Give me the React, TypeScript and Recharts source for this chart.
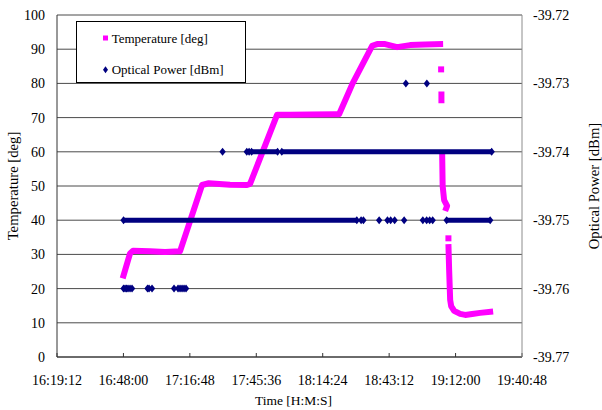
import React from "react";
import { CartesianGrid, ComposedChart, Line, Scatter, XAxis, YAxis } from "recharts";

const xTickLabels = ["16:19:12", "16:48:00", "17:16:48", "17:45:36", "18:14:24", "18:43:12", "19:12:00", "19:40:48"];
const tempTicks = [0, 10, 20, 30, 40, 50, 60, 70, 80, 90, 100];
const powerTicks = [-39.77, -39.76, -39.75, -39.74, -39.73, -39.72];

// temperature trace, null = gap in the trace
const tempTimes = [
  "16:47:41", "16:50:52", "16:52:10", "16:59:32", "17:06:02", "17:12:32", "17:22:05", "17:25:00", "17:34:13",
  "17:41:36", "17:42:54", "17:54:36", "18:00:15", "18:08:55", "18:19:46", "18:21:30", "18:27:22",
  "18:35:50", "18:38:00", "18:41:27", "18:46:39", "18:52:17", "18:58:47", "19:06:36",
  "19:06:36",
  "19:05:52", "19:05:52",
  "19:05:52",
  "19:06:10", "19:06:24", "19:07:02", "19:08:20", "19:07:29",
  "19:07:29",
  "19:08:54", "19:09:13", "19:09:39", "19:10:05", "19:11:23", "19:14:00", "19:16:10", "19:19:12", "19:22:38", "19:28:17",
];
const tempValues = [
  23.0, 30.3, 31.1, 30.9, 30.7, 30.9, 50.3, 50.8, 50.4,
  50.3, 50.6, 70.8, 70.8, 70.9, 71.0, 71.0, 80.0,
  91.0, 91.5, 91.5, 90.6, 91.2, 91.4, 91.5,
  null,
  77.6, 74.2,
  null,
  60.3, 50.0, 45.9, 44.2, 42.7,
  null,
  33.0, 25.4, 16.7, 14.9, 13.5, 12.6, 12.3, 12.6, 12.9, 13.3,
];
const tempSpotTimes = ["19:05:44", "19:08:54"];
const tempSpotValues = [84.1, 34.7];

// optical power: dense runs of samples
const powerRunStart = ["16:48:03", "19:08:08", "17:43:34", "17:56:40"];
const powerRunEnd = ["18:29:11", "19:27:00", "17:54:50", "19:27:39"];
const powerRunLevel = [-39.75, -39.75, -39.74, -39.74];

// optical power: single samples
const powerDotTimes = [
  "16:48:03", "16:48:42", "16:49:21", "16:50:00", "16:50:52", "16:51:44", "16:58:27", "16:59:06", "17:00:24",
  "17:09:57", "17:11:41", "17:12:33", "17:13:25", "17:14:17", "17:15:09",
  "17:30:59", "17:41:29", "17:42:29",
  "18:31:03", "18:32:03", "18:38:52", "18:42:28", "18:43:51", "18:45:35", "18:49:42", "18:57:49", "18:59:28",
  "19:00:46", "19:02:04",
  "18:50:27", "18:59:33",
];
const powerDotValues = [
  -39.76, -39.76, -39.76, -39.76, -39.76, -39.76, -39.76, -39.76, -39.76,
  -39.76, -39.76, -39.76, -39.76, -39.76, -39.76,
  -39.74, -39.74, -39.74,
  -39.75, -39.75, -39.75, -39.75, -39.75, -39.75, -39.75, -39.75, -39.75,
  -39.75, -39.75,
  -39.73, -39.73,
];

const MAGENTA = "#ff00ff";
const NAVY = "#000080";
const FONT = '"Liberation Serif", "Times New Roman", serif';

const toSec = (s: string) => {
  const [h, m, x] = s.split(":").map(Number);
  return h * 3600 + m * 60 + x;
};
const pad = (n: number) => String(n).padStart(2, "0");
const fmtTime = (v: number) =>
  `${Math.floor(v / 3600)}:${pad(Math.floor((v % 3600) / 60))}:${pad(Math.round(v % 60))}`;

const xTicks = xTickLabels.map(toSec);
const tempData = tempTimes.map((t, i) => ({ t: toSec(t), v: tempValues[i] }));
const tempSpots = tempSpotTimes.map((t, i) => ({ t: toSec(t), v: tempSpotValues[i] }));
const runData = powerRunStart.flatMap((s, i) => [
  { t: toSec(s), v: powerRunLevel[i] },
  { t: toSec(powerRunEnd[i]), v: powerRunLevel[i] },
  { t: toSec(powerRunEnd[i]), v: null },
]);
const powerDots = powerDotTimes.map((t, i) => ({ t: toSec(t), v: powerDotValues[i] }));

const Diamond = (p: any) => {
  const { cx, cy } = p;
  if (cx == null || cy == null || (p.value == null && p.payload?.v == null)) return <g key={p.key ?? p.index} />;
  return (
    <polygon
      key={p.key ?? `d${p.index}-${cx}`}
      points={`${cx},${cy - 4} ${cx + 3.2},${cy} ${cx},${cy + 4} ${cx - 3.2},${cy}`}
      fill={NAVY}
    />
  );
};

const Square = (p: any) => {
  const { cx, cy } = p;
  if (cx == null || cy == null) return <g />;
  return <rect x={cx - 3} y={cy - 3} width={6} height={6} fill={MAGENTA} />;
};

function ChartLegend() {
  return (
    <svg width={172} height={64} style={{ position: "absolute", left: 76, top: 21 }}>
      <rect x={0.5} y={0.5} width={169} height={61} fill="#fff" stroke="#000" />
      <rect x={27} y={14.5} width={5} height={5} fill={MAGENTA} />
      <text x={35.7} y={21.7} fontSize={13} fontFamily={FONT} fill="#000">
        Temperature [deg]
      </text>
      <polygon points="29.5,45.2 32,48.7 29.5,52.2 27,48.7" fill={NAVY} />
      <text x={35.7} y={53} fontSize={13} fontFamily={FONT} fill="#000">
        Optical Power [dBm]
      </text>
    </svg>
  );
}

export default function App() {
  const tick = { fontSize: 14, fill: "#000", fontFamily: FONT };
  const xTitle = { fontSize: 13.5, fill: "#000", fontFamily: FONT, textAnchor: "middle" as const };
  const yTitle = { fontSize: 14.7, fill: "#000", fontFamily: FONT, textAnchor: "middle" as const };
  return (
    <div style={{ position: "absolute", left: 0, top: 0, width: 602, height: 410, background: "#fff", fontFamily: FONT }}>
      <ComposedChart width={602} height={410} margin={{ top: 15, right: 0, bottom: 0, left: 0 }}>
        <CartesianGrid yAxisId="temp" vertical={false} stroke="#4a4a4a" />
        <XAxis
          type="number"
          dataKey="t"
          domain={[xTicks[0], xTicks[xTicks.length - 1]]}
          ticks={xTicks}
          interval={0}
          allowDataOverflow
          tickFormatter={fmtTime}
          height={53}
          tick={tick}
          tickSize={-4}
          tickMargin={22}
          axisLine={{ stroke: "#333" }}
          tickLine={{ stroke: "#333" }}
          label={{ value: "Time [H:M:S]", position: "insideBottom", offset: 5, dx: 4, style: xTitle }}
        />
        <YAxis
          yAxisId="temp"
          domain={[0, 100]}
          ticks={tempTicks}
          interval={0}
          allowDataOverflow
          width={57}
          tick={tick}
          tickLine={false}
          tickSize={0}
          tickMargin={12}
          axisLine={{ stroke: "#333" }}
          label={{ value: "Temperature [deg]", angle: -90, position: "insideLeft", offset: 12.5, style: yTitle }}
        />
        <YAxis
          yAxisId="power"
          orientation="right"
          domain={[-39.77, -39.72]}
          ticks={powerTicks}
          interval={0}
          allowDataOverflow
          width={80}
          tick={tick}
          tickFormatter={(v: number) => v.toFixed(2)}
          tickLine={false}
          tickSize={0}
          tickMargin={11}
          axisLine={{ stroke: "#8c8c8c" }}
          label={{ value: "Optical Power [dBm]", angle: -90, position: "insideRight", offset: 8, style: yTitle }}
        />
        <Line
          yAxisId="temp"
          data={tempData}
          dataKey="v"
          stroke={MAGENTA}
          strokeWidth={6}
          strokeLinejoin="round"
          dot={false}
          activeDot={false}
          isAnimationActive={false}
        />
        <Scatter yAxisId="temp" data={tempSpots} dataKey="v" shape={Square} isAnimationActive={false} />
        <Line
          yAxisId="power"
          data={runData}
          dataKey="v"
          stroke={NAVY}
          strokeWidth={5}
          dot={Diamond}
          activeDot={false}
          isAnimationActive={false}
        />
        <Scatter yAxisId="power" data={powerDots} dataKey="v" shape={Diamond} isAnimationActive={false} />
      </ComposedChart>
      <ChartLegend />
    </div>
  );
}
